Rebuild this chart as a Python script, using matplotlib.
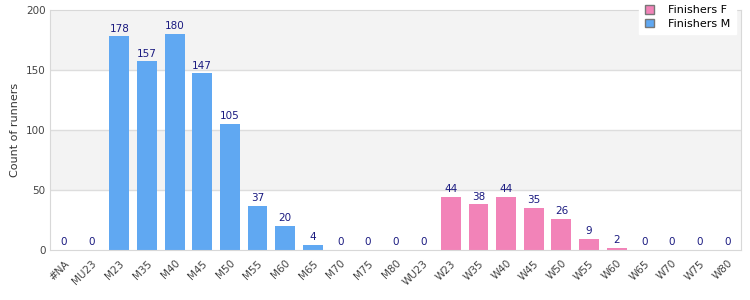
import matplotlib.pyplot as plt
from matplotlib.patches import Patch

categories = ["#NA", "MU23", "M23", "M35", "M40", "M45", "M50", "M55", "M60", "M65",
              "M70", "M75", "M80", "WU23", "W23", "W35", "W40", "W45", "W50", "W55",
              "W60", "W65", "W70", "W75", "W80"]
finishers_m = [0, 0, 178, 157, 180, 147, 105, 37, 20, 4, 0, 0, 0]
finishers_f = [0, 44, 38, 44, 35, 26, 9, 2, 0, 0, 0, 0]

m_color = "#60a8f2"
f_color = "#f283b8"
label_color = "#1a1a80"

fig = plt.figure(figsize=(7.5, 3), dpi=100)
ax = fig.add_axes([0.067, 0.167, 0.921, 0.8])

x_m = list(range(len(finishers_m)))
x_f = list(range(len(finishers_m), len(categories)))

# alternating bands
for lo, hi, c in [(0, 50, "white"), (50, 100, "#f3f3f3"), (100, 150, "white"), (150, 200, "#f3f3f3")]:
    ax.axhspan(lo, hi, color=c, zorder=0, lw=0)
for y in [50, 100, 150]:
    ax.axhline(y, color="#dddddd", lw=1, zorder=1)

bm = ax.bar(x_m, finishers_m, width=0.72, color=m_color, zorder=2)
bf = ax.bar(x_f, finishers_f, width=0.72, color=f_color, zorder=2)
for bars in (bm, bf):
    ax.bar_label(bars, padding=2, fontsize=7.5, color=label_color)

ax.set_xlim(-0.5, len(categories) - 0.5)
ax.set_ylim(0, 200)
ax.set_yticks([0, 50, 100, 150, 200])
ax.set_xticks(range(len(categories)))
ax.set_xticklabels(categories, rotation=45, ha="right", rotation_mode="anchor")
ax.tick_params(axis="both", labelsize=7.5, colors="#444444", length=0)
ax.tick_params(axis="x", pad=6)
ax.set_ylabel("Count of runners", fontsize=8, color="#333333")

for side in ["top", "right", "left", "bottom"]:
    ax.spines[side].set_color("#d8d8d8")

handles = [Patch(facecolor=f_color, edgecolor="#777777", label="Finishers F"),
           Patch(facecolor=m_color, edgecolor="#777777", label="Finishers M")]
leg = ax.legend(handles=handles, loc="upper right", bbox_to_anchor=(0.993, 1.042),
                borderaxespad=0, fontsize=8, frameon=True, fancybox=False, framealpha=1,
                edgecolor="white", handlelength=0.8, handleheight=0.8,
                handletextpad=1.3, borderpad=0.5, labelspacing=0.3)
leg.set_zorder(5)

fig.savefig("out.png")
